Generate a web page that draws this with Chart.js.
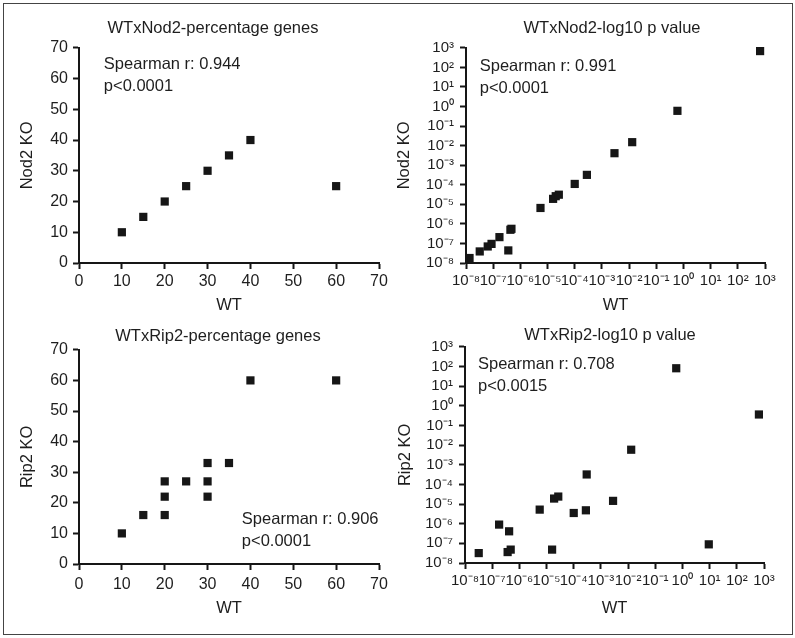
<!DOCTYPE html>
<html>
<head>
<meta charset="utf-8">
<script src="https://cdn.jsdelivr.net/npm/chart.js@4.4.1/dist/chart.umd.min.js"></script>
<style>
    html, body { margin: 0; padding: 0; background: #fff; overflow: hidden; }
    body { width: 795px; height: 638px; position: relative; }
    canvas { position: absolute; }
    #frame { position: absolute; left: 3px; top: 3px; width: 788px; height: 630px; border: 1px solid #444; pointer-events: none; }
</style>
</head>
<body>
<canvas id="c1"></canvas>
<canvas id="c2"></canvas>
<canvas id="c3"></canvas>
<canvas id="c4"></canvas>
<div id="frame"></div>
<script>
/* Four scatter panels: WT vs knockout, percentage genes and log10 p value.
 * Values.
 */

// ── Data ────────────────────────────────────────────

const LOG_EXPONENTS = [-8, -7, -6, -5, -4, -3, -2, -1, 0, 1, 2, 3];

const nod2PctWT = [10, 15, 20, 25, 30, 35, 40, 60];
const nod2PctKO = [10, 15, 20, 25, 30, 35, 40, 25];

const nod2LogWT = [1.35e-8, 3.2e-8, 6.3e-8, 8.7e-8, 1.7e-7, 3.6e-7, 4.3e-7, 4.7e-7, 5.5e-6,
                   1.6e-5, 2e-5, 2.6e-5, 1e-4, 2.8e-4, 2.9e-3, 1.3e-2, 0.6, 660];
const nod2LogKO = [1.8e-8, 3.9e-8, 7e-8, 9.5e-8, 2.1e-7, 4.4e-8, 5e-7, 5.6e-7, 6.5e-6,
                   1.9e-5, 2.6e-5, 3.1e-5, 1.1e-4, 3.2e-4, 4.1e-3, 1.5e-2, 0.6, 680];

const rip2PctWT = [10, 15, 20, 20, 20, 25, 30, 30, 30, 35, 40, 60];
const rip2PctKO = [10, 16, 16, 22, 27, 27, 22, 27, 33, 33, 60, 60];

const rip2LogWT = [3.2e-8, 1.8e-7, 4.2e-7, 3.7e-7, 4.8e-7, 5.6e-6, 1.6e-5, 1.9e-5, 2.7e-5,
                   1e-4, 2.8e-4, 3e-4, 2.8e-3, 1.3e-2, 0.59, 9.3, 650];
const rip2LogKO = [3.2e-8, 9e-7, 4.1e-7, 3.6e-8, 4.8e-8, 5.2e-6, 4.8e-8, 1.9e-5, 2.4e-5,
                   3.5e-6, 4.8e-6, 3.2e-4, 1.45e-5, 5.8e-3, 81, 8.9e-8, 0.36];

const nod2PctNote = ['Spearman r: 0.944', 'p<0.0001'];
const nod2LogNote = ['Spearman r: 0.991', 'p<0.0001'];
const rip2PctNote = ['Spearman r: 0.906', 'p<0.0001'];
const rip2LogNote = ['Spearman r: 0.708', 'p<0.0015'];

// ── Style ───────────────────────────────────────────

const FONT = "'Liberation Sans', Arial, Helvetica, sans-serif";
const INK = '#161616';
const TEXT = '#1e1e1e';

Chart.defaults.font.family = FONT;
Chart.defaults.color = TEXT;

const SUP = { '-': '\u207B', '0': '\u2070', '1': '\u00B9', '2': '\u00B2', '3': '\u00B3',
              '4': '\u2074', '5': '\u2075', '6': '\u2076', '7': '\u2077', '8': '\u2078', '9': '\u2079' };

function powerLabel(v) {
    const e = Math.round(Math.log10(v));
    return '10' + String(e).split('').map(c => SUP[c]).join('');
}

// Panel geometry (canvas box, axis sizes, paddings)
const PANELS = [
    { id: 'c1', left: 0, top: 0, width: 426, height: 318, yAxisW: 79, padRight: 47, xAxisH: 55,
      title: 'WTxNod2-percentage genes', titlePad: { top: 19, bottom: 9 },
      yTitle: 'Nod2 KO', yTitlePad: 18, xTitlePad: 3, xTickPad: 3,
      log: false, xs: nod2PctWT, ys: nod2PctKO, note: nod2PctNote, noteAt: [5.8, 64.5] },
    { id: 'c2', left: 390, top: 0, width: 444, height: 318, yAxisW: 76, padRight: 69, xAxisH: 55,
      title: 'WTxNod2-log10 p value', titlePad: { top: 19, bottom: 9 },
      yTitle: 'Nod2 KO', yTitlePad: 5, xTitlePad: 3, xTickPad: 3,
      log: true, xs: nod2LogWT, ys: nod2LogKO, note: nod2LogNote, noteAt: [3.2e-8, 107] },
    { id: 'c3', left: 0, top: 318, width: 436, height: 318, yAxisW: 79, padRight: 57, xAxisH: 72,
      title: 'WTxRip2-percentage genes', titlePad: { top: 9, bottom: 3 },
      yTitle: 'Rip2 KO', yTitlePad: 18, xTitlePad: 18, xTickPad: 5,
      log: false, xs: rip2PctWT, ys: rip2PctKO, note: rip2PctNote, noteAt: [38, 14.4] },
    { id: 'c4', left: 390, top: 318, width: 440, height: 318, yAxisW: 75, padRight: 66, xAxisH: 73,
      title: 'WTxRip2-log10 p value', titlePad: { top: 8, bottom: 1 },
      yTitle: 'Rip2 KO', yTitlePad: 6, xTitlePad: 18, xTickPad: 3,
      log: true, xs: rip2LogWT, ys: rip2LogKO, note: rip2LogNote, noteAt: [3e-8, 120] },
];

// ── Plugins ─────────────────────────────────────────

// Spearman text, anchored in data coordinates
const notesPlugin = {
    id: 'notes',
    afterDatasetsDraw(chart, args, opts) {
        if (!opts.lines) return;
        const { ctx, scales } = chart;
        const x = scales.x.getPixelForValue(opts.at[0]);
        const y = scales.y.getPixelForValue(opts.at[1]);
        ctx.save();
        ctx.font = `${opts.size}px ${FONT}`;
        ctx.fillStyle = TEXT;
        ctx.textBaseline = 'middle';
        ctx.textAlign = 'left';
        opts.lines.forEach((t, i) => ctx.fillText(t, x, y + i * opts.gap));
        ctx.restore();
    }
};

// ── Charts ──────────────────────────────────────────

function axisLines() {
    return {
        grid: { display: true, drawOnChartArea: false, drawTicks: true, tickLength: 6, tickWidth: 2, tickColor: INK },
        border: { display: true, width: 2, color: INK },
    };
}

function valueAxis(p, axis) {
    const base = axisLines();
    const isX = axis === 'x';
    const tickFont = { size: p.log ? 15 : 16 };
    const scale = {
        ...base,
        type: p.log ? 'logarithmic' : 'linear',
        position: isX ? 'bottom' : 'left',
        min: p.log ? 1e-8 : 0,
        max: p.log ? 1e3 : 70,
        ticks: {
            font: tickFont,
            color: TEXT,
            padding: isX ? p.xTickPad : (p.log ? 6 : 5),
            autoSkip: false,
            maxRotation: 0,
            minRotation: 0,
        },
        title: {
            display: true,
            text: isX ? 'WT' : p.yTitle,
            font: { size: 16.5 },
            color: TEXT,
            padding: isX ? { top: 0, bottom: p.xTitlePad } : { top: p.yTitlePad, bottom: 0 },
        },
        afterFit: s => {
            if (isX) s.height = p.xAxisH;
            else s.width = p.yAxisW;
        },
    };
    if (p.log) {
        scale.afterBuildTicks = s => { s.ticks = LOG_EXPONENTS.map(e => ({ value: Math.pow(10, e) })); };
        scale.ticks.callback = v => powerLabel(v);
    } else {
        scale.ticks.stepSize = 10;
    }
    return scale;
}

function buildPanel(p) {
    const canvas = document.getElementById(p.id);
    canvas.width = p.width;
    canvas.height = p.height;
    canvas.style.left = p.left + 'px';
    canvas.style.top = p.top + 'px';

    const points = p.xs.map((x, i) => ({ x: x, y: p.ys[i] }));

    return new Chart(canvas, {
        type: 'scatter',
        data: {
            datasets: [{
                data: points,
                xAxisID: 'x',
                yAxisID: 'y',
                pointStyle: 'rect',
                pointRadius: 5.8,
                pointHoverRadius: 5.8,
                backgroundColor: INK,
                borderWidth: 0,
                clip: false,
            }]
        },
        options: {
            responsive: false,
            animation: false,
            layout: { padding: 0 },
            scales: {
                x: valueAxis(p, 'x'),
                y: valueAxis(p, 'y'),
                // spare room on the right so the title centres like the figure
                pad: {
                    type: 'linear',
                    position: 'right',
                    display: true,
                    ticks: { display: false },
                    grid: { display: false },
                    border: { display: false },
                    afterFit: s => { s.width = p.padRight; },
                },
            },
            plugins: {
                legend: { display: false },
                tooltip: { enabled: false },
                title: {
                    display: true,
                    text: p.title,
                    color: TEXT,
                    font: { size: 16.5, weight: 'normal' },
                    padding: p.titlePad,
                },
                notes: { lines: p.note, at: p.noteAt, size: 16.5, gap: 22 },
            },
        },
        plugins: [notesPlugin],
    });
}

PANELS.forEach(buildPanel);
</script>
</body>
</html>
